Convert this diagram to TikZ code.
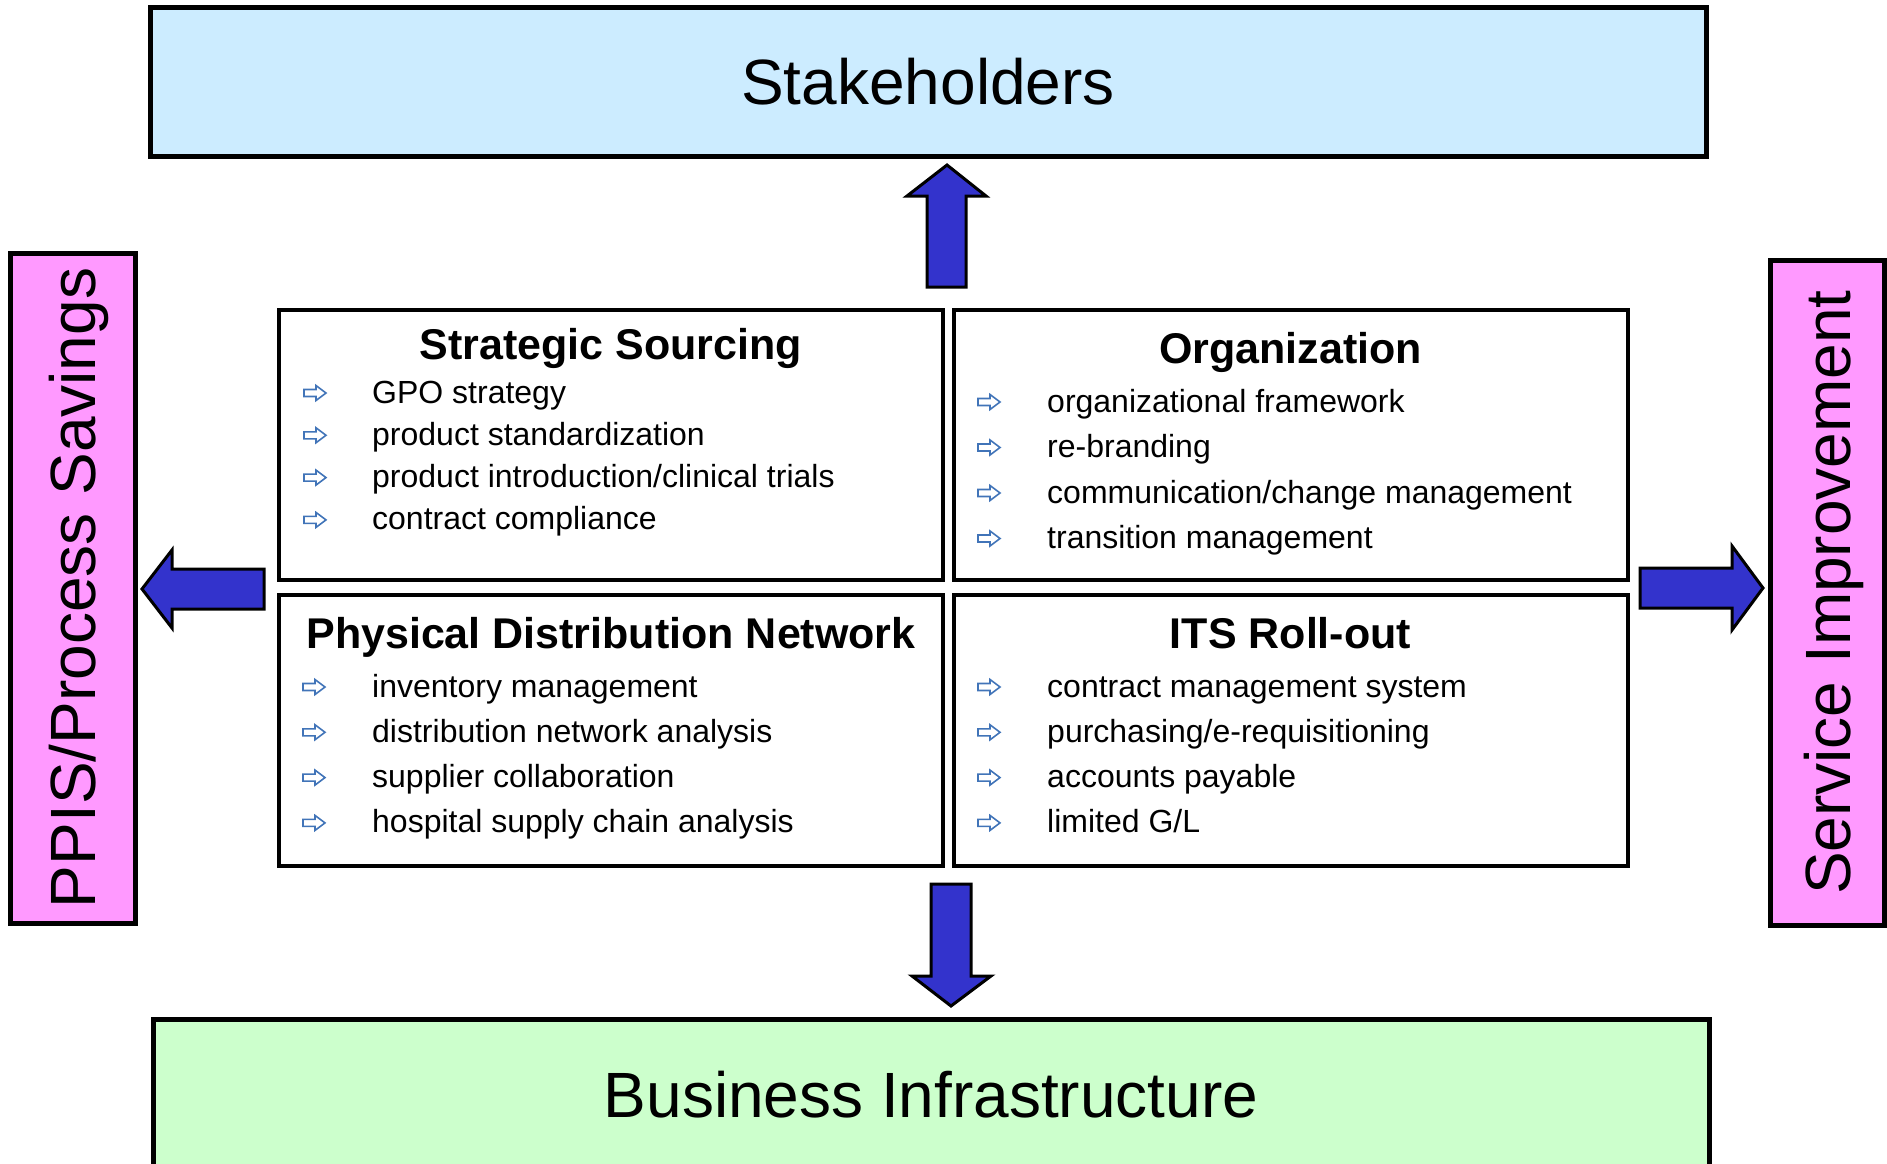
\documentclass[tikz,border=0pt]{standalone}
\usepackage{fontspec}
\setmainfont{Liberation Sans}
\usetikzlibrary{positioning}

\definecolor{skyfill}{HTML}{CCECFF}
\definecolor{mintfill}{HTML}{CCFFCC}
\definecolor{pinkfill}{HTML}{FF99FF}
\definecolor{arrowblue}{HTML}{3333CC}
\definecolor{bulletblue}{HTML}{4174B8}

\tikzset{
  bigbox/.style={draw, line width=5pt, inner sep=0pt, font=\fontsize{64}{76}\selectfont},
  sidebox/.style={bigbox, fill=pinkfill, rotate=90, text depth=0pt},
  areabox/.style={draw, line width=4pt, inner sep=0pt},
  areahead/.style={anchor=base, inner sep=0pt, font=\fontsize{43}{50}\selectfont\bfseries},
  areaitem/.style={anchor=base west, inner sep=0pt, font=\fontsize{32}{38}\selectfont},
  blockarrow/.style={draw, line width=3pt, fill=arrowblue, line join=miter},
  bulletline/.style={draw=bulletblue, line width=1.6pt, line join=miter},
  hollowarrow/.pic={
    \draw[bulletline] (-11,-3.5) -- (1,-3.5) -- (1,-7.5) -- (11,0) -- (1,7.5) -- (1,3.5) -- (-11,3.5) -- cycle;
  }
}

\begin{document}
\begin{tikzpicture}[x=1pt,y=-1pt]
\useasboundingbox (0,0) rectangle (1887,1164);
\clip (0,0) rectangle (1887,1164);

% outer boxes
\node[bigbox, fill=skyfill, minimum width=1556pt, minimum height=148pt] (stake) at (928,82) {Stakeholders};
\node[bigbox, fill=mintfill, minimum width=1556pt, minimum height=152pt] (infra) at (931,1095) {Business Infrastructure};
\node[sidebox, minimum width=670pt, minimum height=125pt] (ppis) at (72.5,588) {PPIS/Process Savings};
\node[sidebox, minimum width=665pt, minimum height=114pt] (serv) at (1827,592.5) {Service Improvement};

% the four areas
\node[areabox, minimum width=664pt, minimum height=270pt] (src) at (611,445) {};
\node[areabox, minimum width=674pt, minimum height=270pt] (org) at (1290.5,445) {};
\node[areabox, minimum width=664pt, minimum height=271pt] (pdn) at (611,730.5) {};
\node[areabox, minimum width=674pt, minimum height=271pt] (its) at (1290.5,730.5) {};

\node[areahead] (srchead) at (611,359) {Strategic Sourcing};
\node[areahead] (orghead) at (1290.5,363) {Organization};
\node[areahead] (pdnhead) at (611,648) {Physical Distribution Network};
\node[areahead] (itshead) at (1290.5,648) {ITS Roll-out};

\foreach \txt [count=\i] in {GPO strategy, product standardization,
    product introduction/clinical trials, contract compliance} {
  \pic at (315,{393+42.3*(\i-1)}) {hollowarrow};
  \node[areaitem] (src\i) at (372,{403+42.3*(\i-1)}) {\txt};
}
\foreach \txt [count=\i] in {organizational framework, re-branding,
    communication/change management, transition management} {
  \pic at (989,{402+45.5*(\i-1)}) {hollowarrow};
  \node[areaitem] (org\i) at (1047,{412+45.5*(\i-1)}) {\txt};
}
\foreach \txt [count=\i] in {inventory management, distribution network analysis,
    supplier collaboration, hospital supply chain analysis} {
  \pic at (314,{687+45.3*(\i-1)}) {hollowarrow};
  \node[areaitem] (pdn\i) at (372,{697+45.3*(\i-1)}) {\txt};
}
\foreach \txt [count=\i] in {contract management system, purchasing/e-requisitioning,
    accounts payable, limited G/L} {
  \pic at (989,{687+45.3*(\i-1)}) {hollowarrow};
  \node[areaitem] (its\i) at (1047,{697+45.3*(\i-1)}) {\txt};
}

% block arrows
\draw[blockarrow] (927,287) -- (927,196) -- (907,196) -- (947,165) -- (986,196) -- (966,196) -- (966,287) -- cycle;
\draw[blockarrow] (931,884) -- (931,976) -- (912,976) -- (951,1006) -- (991,976) -- (971,976) -- (971,884) -- cycle;
\draw[blockarrow] (264,569) -- (172,569) -- (172,550) -- (142,589) -- (172,628) -- (172,609) -- (264,609) -- cycle;
\draw[blockarrow] (1640,568) -- (1732,568) -- (1732,546) -- (1763,588) -- (1732,630) -- (1732,608) -- (1640,608) -- cycle;
\end{tikzpicture}
\end{document}
